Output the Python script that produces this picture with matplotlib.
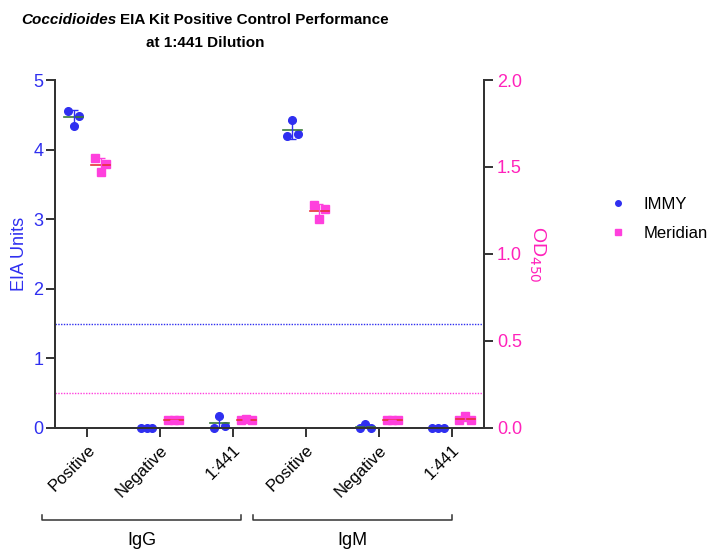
import matplotlib
matplotlib.use("Agg")
import matplotlib.pyplot as plt
import matplotlib.transforms as mtransforms
import numpy as np

plt.rcParams['font.family'] = ['Liberation Sans', 'DejaVu Sans']

# categories (IgG: 0-2, IgM: 3-5)
categories = ["Positive", "Negative", "1:441", "Positive", "Negative", "1:441"]
groups = ["IgG", "IgM"]

# IMMY, EIA units (left axis), three replicates per category
immy = [
    [4.56, 4.34, 4.49],
    [0.0, 0.0, 0.0],
    [0.0, 0.17, 0.03],
    [4.20, 4.43, 4.22],
    [0.0, 0.06, 0.0],
    [0.0, 0.0, 0.0],
]
# Meridian, OD450 (right axis)
meridian = [
    [1.55, 1.47, 1.52],
    [0.044, 0.046, 0.045],
    [0.045, 0.05, 0.045],
    [1.28, 1.20, 1.26],
    [0.045, 0.045, 0.045],
    [0.045, 0.07, 0.045],
]
immy_cutoff = 1.5      # EIA units
meridian_cutoff = 0.2  # OD450

blue = "#2f2ff0"
pink = "#ff40dd"
pink_text = "#ff22bb"
spine_col = "#333333"

fig = plt.figure(figsize=(7.1, 5.5), dpi=100)
ax = fig.add_axes([0.0775, 0.222, 0.604, 0.6325])
ax2 = ax.twinx()

x = np.arange(len(categories))
jit = np.array([-0.08, 0.0, 0.08])
off = 0.185


def draw_set(a, vals, dx, marker, mcol, mean_col, err_col):
    for i, v in enumerate(vals):
        v = np.array(v)
        a.plot(x[i] + dx + jit, v, linestyle="none", marker=marker, ms=5.5,
               color=mcol, zorder=3, clip_on=False)
        m = v.mean()
        sd = v.std(ddof=1)
        a.plot([x[i] + dx - 0.13, x[i] + dx + 0.13], [m, m], color=mean_col, lw=1.2, zorder=4)
        a.errorbar(x[i] + dx, m, yerr=sd, color=err_col, capsize=3, lw=1.0,
                   capthick=1.0, zorder=4)


draw_set(ax, immy, -off, "o", blue, "#3a7a3a", blue)
draw_set(ax2, meridian, off, "s", pink, "#e8303a", pink)

ax.axhline(immy_cutoff, color=blue, lw=1.0, ls=(0, (1, 1)), zorder=1)
ax2.axhline(meridian_cutoff, color=pink, lw=1.0, ls=(0, (1, 1)), zorder=1)

ax.set_xlim(-0.44, 5.44)
ax.set_ylim(0, 5)
ax2.set_ylim(0, 2)
ax.set_yticks(np.arange(0, 6, 1))
ax2.set_yticks(np.arange(0, 2.01, 0.5))
ax2.set_yticklabels(["0.0", "0.5", "1.0", "1.5", "2.0"])

ax.set_xticks(x)
ax.set_xticklabels(categories, rotation=45, ha="right", rotation_mode="anchor", fontsize=12)
shift = mtransforms.ScaledTranslation(-4 / 100, 2 / 100, fig.dpi_scale_trans)
for lbl in ax.get_xticklabels():
    lbl.set_transform(lbl.get_transform() + shift)

for a in (ax, ax2):
    a.spines["top"].set_visible(False)
    for s in ("left", "right", "bottom"):
        a.spines[s].set_color(spine_col)
        a.spines[s].set_linewidth(1.4)
    a.tick_params(axis="both", direction="out", length=6.5, width=1.4, color=spine_col)

ax.tick_params(axis="y", labelcolor=blue, labelsize=13, pad=2)
ax.tick_params(axis="x", labelsize=12, pad=4)
ax2.tick_params(axis="y", labelcolor=pink_text, labelsize=13, pad=3)

ax.set_ylabel("EIA Units", color=blue, fontsize=13, labelpad=4)
ax2.set_ylabel(r"OD$_{450}$", color=pink_text, fontsize=14, rotation=270, labelpad=18)

# group brackets under the categories
trans = mtransforms.blended_transform_factory(ax.transData, fig.transFigure)
brackets = [(-0.62, 2.11), (2.27, 5.0)]
for (x0, x1), g in zip(brackets, groups):
    yb = 0.054
    ax.plot([x0, x0, x1, x1], [yb + 0.01, yb, yb, yb + 0.01], color=spine_col, lw=1.1,
            transform=trans, clip_on=False)
    ax.text((x0 + x1) / 2, yb - 0.022, g, transform=trans, ha="center", va="top", fontsize=13)

# title: italic genus name followed by bold text
title_size = 11
t1 = fig.text(0.069, 0.957, "Coccidioides", fontsize=title_size, fontweight="bold",
              style="italic", ha="left", va="baseline")
ann = plt.annotate("EIA Kit Positive Control Performance", xy=(1, 0), xycoords=t1,
                   xytext=(3, 0), textcoords="offset points",
                   fontsize=title_size, fontweight="bold", ha="left", va="bottom")
fig.canvas.draw()
r = fig.canvas.get_renderer()
w = t1.get_window_extent(r).width + ann.get_window_extent(r).width + 4
t1.set_x((205 - w / 2) / 710)
fig.text(205 / 710, 0.914, "at 1:441 Dilution", fontsize=title_size, fontweight="bold",
         ha="center", va="baseline")

# legend
h1, = ax.plot([], [], "o", color=blue, ms=4, label="IMMY")
h2, = ax.plot([], [], "s", color=pink, ms=4, label="Meridian")
fig.legend(handles=[h1, h2], loc="center left", bbox_to_anchor=(0.838, 0.602),
           frameon=False, fontsize=12, handlelength=1.0, handletextpad=1.0,
           labelspacing=0.85)

fig.savefig("out.png", dpi=100)
